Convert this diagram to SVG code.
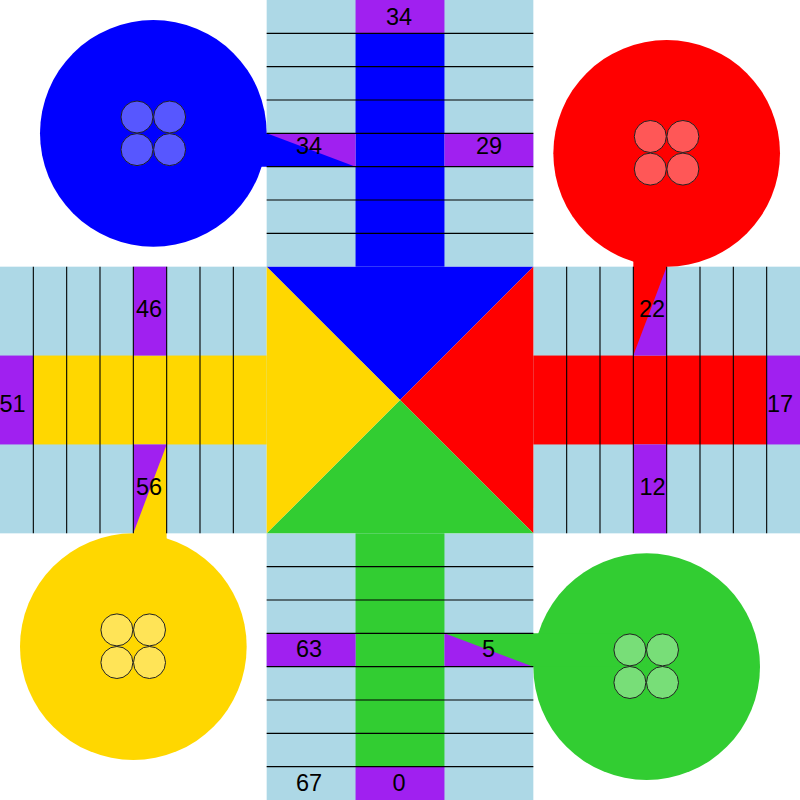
<svg xmlns="http://www.w3.org/2000/svg" width="800" height="800" viewBox="0 0 800 800">
<style>
.arm{fill:#add8e6}
.sp{fill:#a020f0}
.ln{stroke:#000;stroke-width:1.1}
.lbl{font-family:"Liberation Sans",Arial,sans-serif;font-size:23.5px;fill:#000;text-anchor:middle}
.tok{fill:#fff;fill-opacity:0.34;stroke:#222;stroke-width:1}
</style>
<rect width="800" height="800" fill="#fff"/>
<g id="arm-top">
<rect class="arm" x="266.667" y="0" width="266.667" height="266.667"/>
<rect fill="#0000ff" x="355.556" y="33.333" width="88.889" height="233.334"/>
<rect class="sp" x="355.556" y="0" width="88.889" height="33.333"/>
<rect class="sp" x="266.667" y="133.333" width="88.889" height="33.333"/>
<rect class="sp" x="444.444" y="133.333" width="88.889" height="33.333"/>
</g>
<g id="arm-right">
<rect class="arm" x="533.333" y="266.667" width="266.667" height="266.667"/>
<rect fill="#ff0000" x="533.333" y="355.556" width="233.334" height="88.889"/>
<rect class="sp" x="633.333" y="266.667" width="33.333" height="88.889"/>
<rect class="sp" x="766.667" y="355.556" width="33.333" height="88.889"/>
<rect class="sp" x="633.333" y="444.444" width="33.333" height="88.889"/>
</g>
<g id="arm-bottom">
<rect class="arm" x="266.667" y="533.333" width="266.667" height="266.667"/>
<rect fill="#32cd32" x="355.556" y="533.333" width="88.889" height="233.334"/>
<rect class="sp" x="266.667" y="633.333" width="88.889" height="33.333"/>
<rect class="sp" x="444.444" y="633.333" width="88.889" height="33.333"/>
<rect class="sp" x="355.556" y="766.667" width="88.889" height="33.333"/>
</g>
<g id="arm-left">
<rect class="arm" x="0" y="266.667" width="266.667" height="266.667"/>
<rect fill="#ffd700" x="33.333" y="355.556" width="233.334" height="88.889"/>
<rect class="sp" x="133.333" y="266.667" width="33.333" height="88.889"/>
<rect class="sp" x="0" y="355.556" width="33.333" height="88.889"/>
<rect class="sp" x="133.333" y="444.444" width="33.333" height="88.889"/>
</g>
<g id="center">
<polygon fill="#0000ff" points="266.667,266.667 533.333,266.667 400,400"/>
<polygon fill="#ff0000" points="533.333,266.667 533.333,533.333 400,400"/>
<polygon fill="#32cd32" points="266.667,533.333 533.333,533.333 400,400"/>
<polygon fill="#ffd700" points="266.667,266.667 266.667,533.333 400,400"/>
</g>
<g id="home-blue" fill="#0000ff">
<circle cx="153.333" cy="133.333" r="113.333"/>
<polygon points="153.333,133.333 266.667,133.333 355.556,166.667 153.333,166.667"/>
</g>
<g id="home-red" fill="#ff0000">
<circle cx="666.667" cy="153.333" r="113.333"/>
<polygon points="633.333,153.333 666.667,153.333 666.667,266.667 633.333,355.556"/>
</g>
<g id="home-green" fill="#32cd32">
<circle cx="646.667" cy="666.667" r="113.333"/>
<polygon points="444.444,633.333 646.667,633.333 646.667,666.667 533.333,666.667"/>
</g>
<g id="home-yellow" fill="#ffd700">
<circle cx="133.333" cy="646.667" r="113.333"/>
<polygon points="166.667,444.444 166.667,646.667 133.333,646.667 133.333,533.333"/>
</g>
<g id="grid-lines" class="ln">
<line x1="266.667" x2="533.333" y1="33.333" y2="33.333"/>
<line x1="266.667" x2="533.333" y1="66.667" y2="66.667"/>
<line x1="266.667" x2="533.333" y1="100" y2="100"/>
<line x1="266.667" x2="533.333" y1="133.333" y2="133.333"/>
<line x1="266.667" x2="533.333" y1="166.667" y2="166.667"/>
<line x1="266.667" x2="533.333" y1="200" y2="200"/>
<line x1="266.667" x2="533.333" y1="233.333" y2="233.333"/>
<line x1="266.667" x2="533.333" y1="566.667" y2="566.667"/>
<line x1="266.667" x2="533.333" y1="600" y2="600"/>
<line x1="266.667" x2="533.333" y1="633.333" y2="633.333"/>
<line x1="266.667" x2="533.333" y1="666.667" y2="666.667"/>
<line x1="266.667" x2="533.333" y1="700" y2="700"/>
<line x1="266.667" x2="533.333" y1="733.333" y2="733.333"/>
<line x1="266.667" x2="533.333" y1="766.667" y2="766.667"/>
<line y1="266.667" y2="533.333" x1="33.333" x2="33.333"/>
<line y1="266.667" y2="533.333" x1="66.667" x2="66.667"/>
<line y1="266.667" y2="533.333" x1="100" x2="100"/>
<line y1="266.667" y2="533.333" x1="133.333" x2="133.333"/>
<line y1="266.667" y2="533.333" x1="166.667" x2="166.667"/>
<line y1="266.667" y2="533.333" x1="200" x2="200"/>
<line y1="266.667" y2="533.333" x1="233.333" x2="233.333"/>
<line y1="266.667" y2="533.333" x1="566.667" x2="566.667"/>
<line y1="266.667" y2="533.333" x1="600" x2="600"/>
<line y1="266.667" y2="533.333" x1="633.333" x2="633.333"/>
<line y1="266.667" y2="533.333" x1="666.667" x2="666.667"/>
<line y1="266.667" y2="533.333" x1="700" x2="700"/>
<line y1="266.667" y2="533.333" x1="733.333" x2="733.333"/>
<line y1="266.667" y2="533.333" x1="766.667" x2="766.667"/>
</g>
<g id="labels" class="lbl">
<text x="399" y="25">34</text>
<text x="309" y="154">34</text>
<text x="489" y="154">29</text>
<text x="652" y="316.7">22</text>
<text x="780" y="411.7">17</text>
<text x="652.5" y="495.3">12</text>
<text x="309" y="656.7">63</text>
<text x="488.5" y="656.7">5</text>
<text x="399" y="790.7">0</text>
<text x="309" y="790.7">67</text>
<text x="149" y="316.7">46</text>
<text x="12.5" y="411.7">51</text>
<text x="149" y="495.3">56</text>
</g>
<g id="tokens-blue" class="tok">
<circle cx="137" cy="117" r="16"/><circle cx="169.6" cy="117" r="16"/>
<circle cx="137" cy="149.6" r="16"/><circle cx="169.6" cy="149.6" r="16"/>
</g>
<g id="tokens-red" class="tok">
<circle cx="650.3" cy="136.5" r="16"/><circle cx="682.9" cy="136.5" r="16"/>
<circle cx="650.3" cy="169.1" r="16"/><circle cx="682.9" cy="169.1" r="16"/>
</g>
<g id="tokens-green" class="tok">
<circle cx="629.9" cy="649.9" r="16"/><circle cx="662.5" cy="649.9" r="16"/>
<circle cx="629.9" cy="682.5" r="16"/><circle cx="662.5" cy="682.5" r="16"/>
</g>
<g id="tokens-yellow" class="tok">
<circle cx="116.9" cy="629.9" r="16"/><circle cx="149.5" cy="629.9" r="16"/>
<circle cx="116.9" cy="662.5" r="16"/><circle cx="149.5" cy="662.5" r="16"/>
</g>
</svg>
